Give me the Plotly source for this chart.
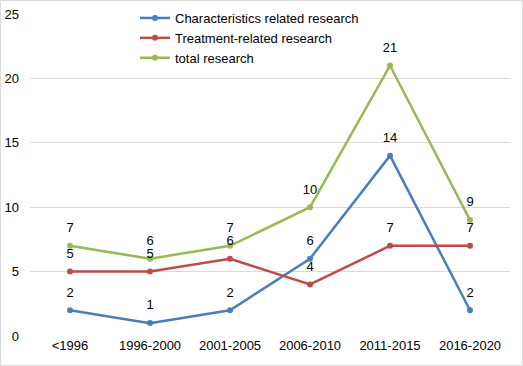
import plotly.graph_objects as go

categories = ["<1996", "1996-2000", "2001-2005", "2006-2010", "2011-2015", "2016-2020"]
characteristics = [2, 1, 2, 6, 14, 2]
treatment = [5, 5, 6, 4, 7, 7]
total = [7, 6, 7, 10, 21, 9]

series = [
    ("Characteristics related research", characteristics, "#4A7EBB"),
    ("Treatment-related research", treatment, "#BE4B48"),
    ("total research", total, "#98B954"),
]

FONT = "Liberation Sans"

fig = go.Figure()
for name, vals, col in series:
    fig.add_trace(go.Scatter(
        x=categories, y=vals, name=name, mode="lines+markers",
        line=dict(color=col, width=2.5), marker=dict(color=col, size=6),
        cliponaxis=False,
    ))
for name, vals, col in series:
    fig.add_trace(go.Scatter(
        x=categories, y=vals, name=name, mode="markers+text", showlegend=False,
        marker=dict(color="rgba(0,0,0,0)", size=15),
        text=[str(v) for v in vals], textposition="top center",
        textfont=dict(color="#000000", size=13, family=FONT),
        hoverinfo="skip", cliponaxis=False,
    ))

W, H = 523, 366
L, R, T, B = 30, 13, 14, 30
pw, ph = W - L - R, H - T - B

fig.update_layout(
    width=W, height=H,
    margin=dict(l=L, r=R, t=T, b=B, autoexpand=False),
    paper_bgcolor="white", plot_bgcolor="white",
    font=dict(family=FONT, size=13, color="#000000"),
    showlegend=True,
    legend=dict(x=(135 - L) / pw, y=1 + (T - 3) / ph, xanchor="left", yanchor="top",
                bgcolor="rgba(0,0,0,0)", font=dict(size=13), tracegroupgap=0, itemwidth=30),
    xaxis=dict(type="category", range=[-0.5, 5.5], showgrid=False, zeroline=False,
               showline=False, ticks="", tickfont=dict(size=13)),
    yaxis=dict(range=[0, 25], dtick=5, showgrid=True, gridcolor="#D9D9D9", gridwidth=1,
               zeroline=False, showline=False, ticks="", ticklen=0, tickfont=dict(size=13),
               ticklabelstandoff=10),
    shapes=[dict(type="rect", xref="paper", yref="paper",
                 x0=(0.5 - L) / pw, x1=(W - 0.5 - L) / pw,
                 y0=-(H - 0.5 - (T + ph)) / ph, y1=1 + (T - 0.5) / ph,
                 line=dict(color="#D9D9D9", width=1), layer="below")],
)

fig.write_html("out.html", config={"displayModeBar": False},
               post_script="document.body.style.margin='0';document.body.style.overflow='hidden';")
